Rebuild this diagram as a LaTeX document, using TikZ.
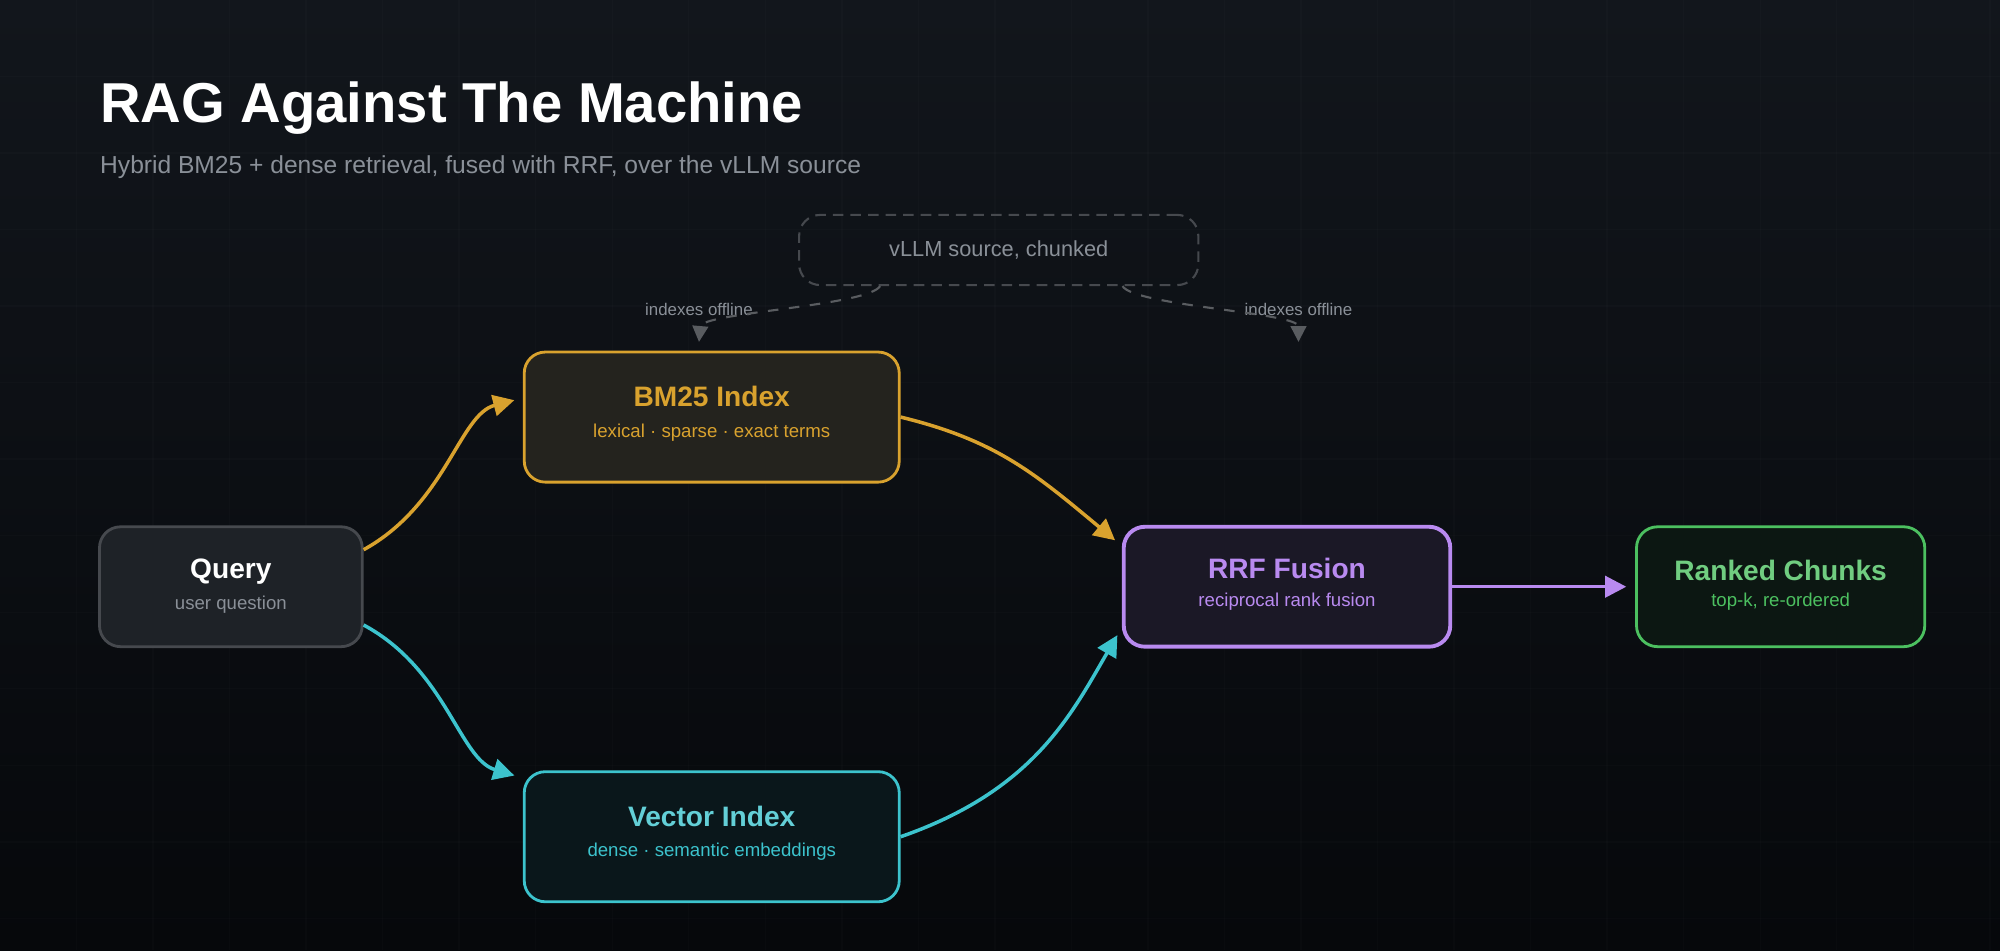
\documentclass[tikz,border=0pt]{standalone}
\usepackage{fontspec}
\setmainfont{Liberation Sans}
\usetikzlibrary{positioning,arrows.meta}
\definecolor{bgtop}{HTML}{12161C}
\definecolor{bgbot}{HTML}{06080B}
\definecolor{orangec}{HTML}{D9A22E}
\definecolor{cyanc}{HTML}{3CC3CD}
\definecolor{purplec}{HTML}{B98AF0}
\definecolor{greenc}{HTML}{4CC060}
\definecolor{greyc}{HTML}{8A9098}
\tikzset{
  box/.style={draw, rounded corners=6pt, line width=0.8pt, align=center},
  size/.style 2 args={minimum width={#1*0.012755cm}, minimum height={#2*0.012755cm}},
  boxtitle/.style={font=\bfseries\fontsize{8}{9}\selectfont},
  boxsub/.style={font=\fontsize{5.3}{6}\selectfont},
  flow/.style={line width=1pt, -{Triangle[length=6pt,width=6pt]}, shorten >=2.5pt},
  offline/.style={white!30!bgtop, dashed, line width=0.6pt, -{Triangle[length=4.5pt,width=4.5pt,sep=0pt]}},
}
\begin{document}
\begin{tikzpicture}[x=0.012755cm, y=-0.012755cm]
    % background
    \shade[top color=bgtop, bottom color=bgbot] (0,0) rectangle (1568,745);
    \useasboundingbox (0,0) rectangle (1568,745);
    \foreach \x in {60,120,...,1560}
    \draw[white, opacity=0.015] (\x,0) -- (\x,745);
    \foreach \y in {60,120,...,740}
    \draw[white, opacity=0.015] (0,\y) -- (1568,\y);

    % title
    \node[anchor=west, inner sep=0, text=white, font=\bfseries\fontsize{16}{19}\selectfont] (title) at (78,85) {RAG Against The Machine};
    \node[anchor=west, inner sep=0, text=greyc, font=\fontsize{7}{8}\selectfont] (subtitle) at (78,131) {Hybrid BM25 + dense retrieval, fused with RRF, over the vLLM source};

    % boxes
    \node[box, size={206}{94}, draw=white!22!bgtop, fill=white!5!bgtop] (query) at (181,460) {};
    \node[boxtitle, text=white] at (181,448) {Query};
    \node[boxsub, text=greyc] at (181,474) {user question};

    \node[box, size={294}{102}, draw=orangec, fill=orangec!9!bgtop] (bm25) at (558,327) {};
    \node[boxtitle, text=orangec] at (558,311) {BM25 Index};
    \node[boxsub, text=orangec] at (558,339) {lexical · sparse · exact terms};

    \node[box, size={294}{102}, draw=cyanc, fill=cyanc!8!bgbot] (vector) at (558,656) {};
    \node[boxtitle, text=cyanc!80!white] at (558,640) {Vector Index};
    \node[boxsub, text=cyanc] at (558,668) {dense · semantic embeddings};

    \node[box, size={256}{94}, draw=purplec, line width=1.1pt, fill=purplec!12!bgbot] (rrf) at (1009,460) {};
    \node[boxtitle, text=purplec] at (1009,446) {RRF Fusion};
    \node[boxsub, text=purplec] at (1009,472) {reciprocal rank fusion};

    \node[box, size={226}{94}, draw=greenc, fill=greenc!8!bgbot] (ranked) at (1396,460) {};
    \node[boxtitle, text=greenc!80!white] at (1396,447) {Ranked Chunks};
    \node[boxsub, text=greenc] at (1396,472) {top-k, re-ordered};

    \node[size={313}{55}, draw=white!22!bgtop, dash pattern=on 3pt off 2pt, rounded corners=6pt, line width=0.6pt, text=greyc, font=\fontsize{6.2}{7}\selectfont] (source) at (783,196) {vLLM source, chunked};

    % offline indexing
    \coordinate (offl) at (548,268);
    \coordinate (offr) at (1018,268);
    \node[text=greyc, font=\fontsize{4.8}{5}\selectfont] (lbll) at (548,243) {indexes offline};
    \node[text=greyc, font=\fontsize{4.8}{5}\selectfont] (lblr) at (1018,243) {indexes offline};
    \draw[offline] (source.south -| 690,0) .. controls (680,240) and (550,245) .. (offl);
    \draw[offline] (source.south -| 880,0) .. controls (890,240) and (1018,245) .. (offr);

    % flows
    \draw[flow, orangec] (query.east |- 0,431) .. controls (350,395) and (360,325) .. (bm25.west |- 0,312);
    \draw[flow, cyanc] (query.east |- 0,490) .. controls (350,525) and (360,595) .. (vector.west |- 0,610);
    \draw[flow, orangec] (bm25.east) .. controls (780,345) and (810,370) .. (rrf.west |- 0,428);
    \draw[flow, cyanc] (vector.east) .. controls (810,620) and (840,560) .. (rrf.west |- 0,492);
    \draw[flow, purplec] (rrf.east) -- (ranked.west);
\end{tikzpicture}
\end{document}
